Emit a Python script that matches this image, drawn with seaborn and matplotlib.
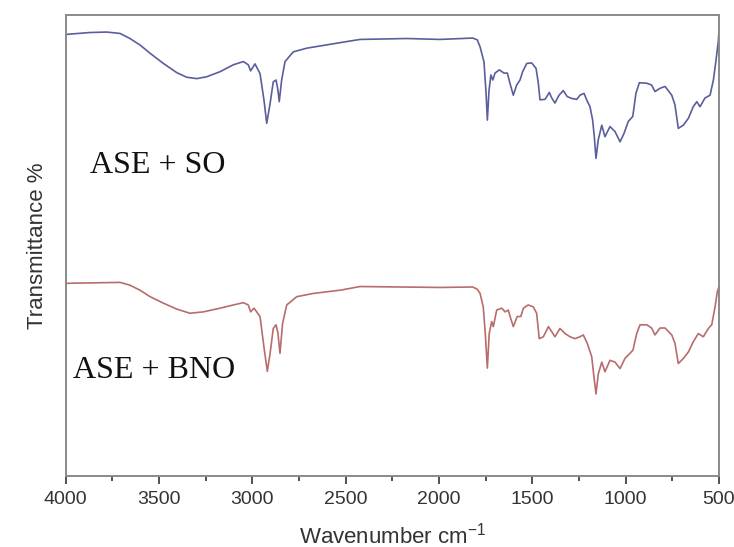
import matplotlib
matplotlib.use("Agg")
import matplotlib.pyplot as plt
from matplotlib.ticker import MultipleLocator
import seaborn as sns
import pandas as pd

# FTIR spectra (wavenumber in cm^-1, transmittance in arbitrary offset units)
wn_so = [3995, 3870, 3780, 3709, 3656, 3602, 3548, 3477, 3405, 3352, 3298, 3245,
         3173, 3102, 3048, 3022, 3009, 2986, 2959, 2938, 2923, 2905, 2888, 2873,
         2863, 2856, 2843, 2825, 2781, 2709, 2530, 2423, 2173, 1995, 1819, 1795,
         1780, 1759, 1748, 1741, 1732, 1722, 1712, 1700, 1677, 1652, 1634, 1620,
         1602, 1584, 1566, 1552, 1530, 1503, 1480, 1468, 1459, 1432, 1409, 1396,
         1379, 1357, 1334, 1313, 1289, 1262, 1245, 1223, 1209, 1191, 1177, 1168,
         1159, 1147, 1128, 1111, 1084, 1057, 1030, 1009, 986, 962, 945, 927,
         887, 861, 843, 816, 789, 753, 736, 718, 691, 664, 638, 619, 602, 575,
         548, 530, 516, 504, 500]
t_so = [95.8, 96.2, 96.3, 96.0, 94.9, 93.5, 91.7, 89.5, 87.5, 86.5, 86.2, 86.6,
        87.7, 89.2, 89.9, 89.2, 87.9, 89.4, 87.3, 81.6, 76.5, 80.8, 85.5, 85.9,
        83.7, 81.2, 85.9, 89.9, 92.0, 92.8, 94.0, 94.7, 94.9, 94.7, 95.0, 94.6,
        93.1, 89.8, 83.1, 77.2, 83.7, 87.0, 85.9, 87.4, 88.1, 87.4, 87.4, 85.2,
        82.6, 84.8, 85.9, 87.7, 89.5, 89.6, 88.4, 85.2, 81.6, 81.7, 83.2, 82.0,
        80.9, 82.6, 83.6, 82.3, 81.9, 81.7, 82.6, 83.0, 81.6, 80.1, 77.2, 73.6,
        68.9, 72.9, 76.1, 73.6, 75.8, 74.7, 72.5, 74.3, 76.9, 78.0, 83.0, 85.3,
        85.2, 84.8, 83.4, 84.1, 84.5, 82.6, 80.5, 75.4, 76.1, 77.6, 80.1, 81.2,
        80.1, 82.0, 82.6, 85.9, 90.2, 94.2, 96.7]

wn_bno = [3995, 3709, 3656, 3602, 3548, 3477, 3405, 3334, 3263, 3173, 3102, 3048,
          3022, 3009, 2991, 2959, 2938, 2920, 2905, 2888, 2873, 2863, 2852, 2838,
          2816, 2762, 2674, 2530, 2423, 1995, 1819, 1795, 1780, 1763, 1752, 1741,
          1731, 1718, 1709, 1691, 1664, 1646, 1629, 1616, 1602, 1581, 1562, 1548,
          1522, 1495, 1477, 1463, 1441, 1414, 1396, 1379, 1352, 1325, 1298, 1272,
          1245, 1227, 1206, 1182, 1170, 1159, 1147, 1128, 1111, 1084, 1057, 1030,
          1004, 977, 961, 941, 923, 887, 861, 843, 816, 789, 753, 736, 718, 691,
          664, 638, 611, 584, 557, 539, 521, 509, 500]
t_bno = [41.8, 42.0, 41.4, 40.3, 38.9, 37.5, 36.2, 35.3, 35.6, 36.4, 37.1, 37.6,
         37.1, 35.6, 36.4, 34.6, 28.0, 22.7, 26.6, 32.0, 32.8, 31.0, 26.6, 33.1,
         37.1, 38.9, 39.6, 40.3, 41.1, 40.9, 41.0, 40.5, 39.6, 36.7, 30.9, 23.4,
         30.9, 33.5, 32.4, 36.0, 36.4, 35.6, 36.0, 34.2, 32.4, 34.6, 34.6, 36.4,
         37.1, 36.7, 35.3, 29.8, 30.2, 32.4, 31.3, 30.2, 32.0, 30.9, 30.2, 29.8,
         30.2, 30.6, 28.8, 25.9, 21.5, 17.8, 22.1, 24.7, 22.6, 25.1, 24.7, 23.3,
         25.5, 26.6, 27.3, 30.9, 32.8, 32.8, 32.1, 30.6, 32.1, 32.1, 30.6, 28.8,
         24.4, 25.5, 26.9, 29.1, 30.9, 30.2, 32.0, 32.8, 36.7, 40.0, 41.1]

sample_labels = ["ASE + SO", "ASE + BNO"]
line_colors = ["#5a5e9c", "#b86c6c"]

df = pd.concat([
    pd.DataFrame({"wn": wn_so, "t": t_so, "sample": sample_labels[0]}),
    pd.DataFrame({"wn": wn_bno, "t": t_bno, "sample": sample_labels[1]}),
])

sns.set_style("ticks")
plt.rcParams["font.family"] = ["Liberation Sans", "DejaVu Sans"]
plt.rcParams["mathtext.fontset"] = "custom"
plt.rcParams["mathtext.rm"] = "Liberation Sans"
plt.rcParams["mathtext.it"] = "Liberation Sans"

fig = plt.figure(figsize=(7.34, 5.47), dpi=100)
ax = fig.add_axes([65.7 / 734, 1 - 476 / 547, 653.3 / 734, 461 / 547])

sns.lineplot(data=df, x="wn", y="t", hue="sample", palette=line_colors,
             hue_order=sample_labels, estimator=None, sort=False,
             linewidth=1.2, legend=False, ax=ax)
for ln in ax.get_lines():
    ln.set_solid_joinstyle("round")

ax.set_xlim(4000, 500)
ax.set_ylim(0, 100)
ax.xaxis.set_major_locator(MultipleLocator(500))
ax.xaxis.set_minor_locator(MultipleLocator(250))
ax.set_yticks([])

spine_color = "#8a8a8a"
for s in ax.spines.values():
    s.set_visible(True)
    s.set_color(spine_color)
    s.set_linewidth(1.4)
ax.tick_params(axis="x", which="major", direction="out", length=6, width=1.3,
               color="#444444", labelsize=14, labelcolor="#333333", pad=5)
ax.tick_params(axis="x", which="minor", direction="out", length=3.5, width=1.3,
               color="#444444")

ax.set_xlabel(r"Wavenumber cm$^{-1}$", fontsize=16, color="#333333", labelpad=10)
ax.set_ylabel("Transmittance %", fontsize=16, color="#333333", labelpad=13)

# sample annotations
ax.text(3870, 65.7, sample_labels[0], family=["Liberation Serif"], fontsize=23,
        ha="left", va="baseline", color="#111111")
ax.text(3961, 21.3, sample_labels[1], family=["Liberation Serif"], fontsize=23,
        ha="left", va="baseline", color="#111111")

fig.savefig("out.png", dpi=100)
